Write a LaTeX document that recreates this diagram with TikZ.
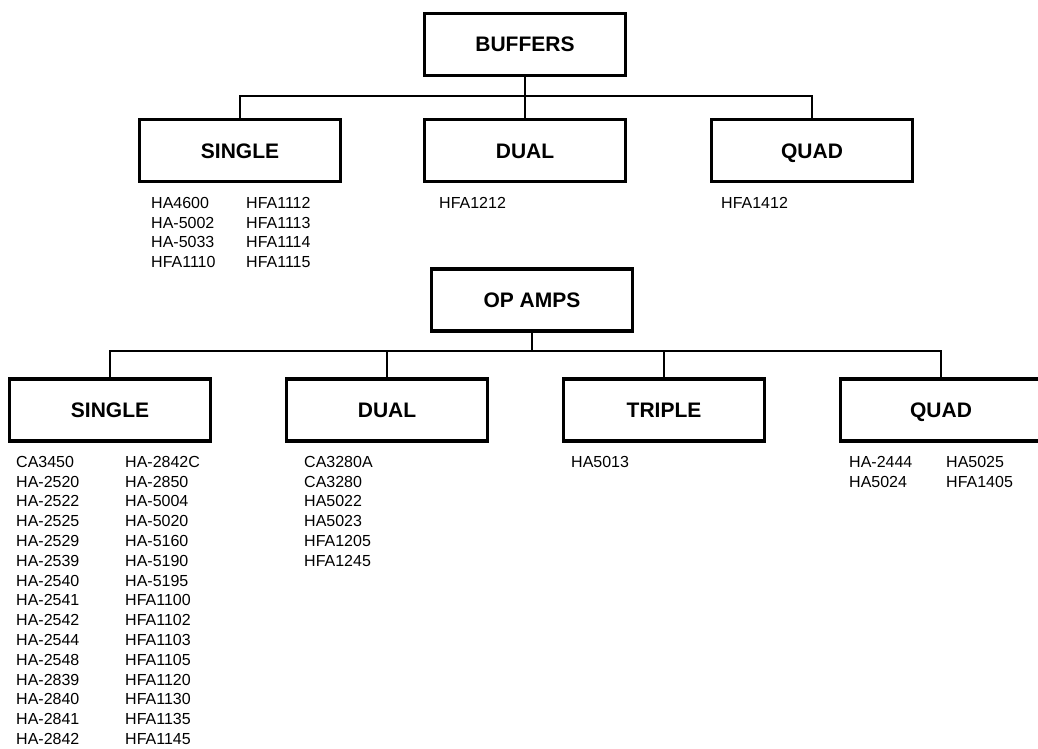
\documentclass[tikz,border=0pt]{standalone}
\usepackage{fontspec}
\setmainfont{Liberation Sans}
\begin{document}
\begin{tikzpicture}[x=1pt,y=-1pt,
    catbox/.style={draw,line width=3.5pt,minimum width=201pt,minimum height=62pt,inner sep=0pt,text height=15pt,text depth=0pt,font=\fontsize{21}{25}\selectfont\bfseries},
    partlist/.style={anchor=north west,inner sep=0pt,align=left,font=\fontsize{16}{19.8}\selectfont},
    link/.style={line width=1.8pt}]
    \useasboundingbox (0,0) rectangle (1038,749);
    \clip (0,0) rectangle (1038,749);
    % buffers
    \node[catbox] (buffers) at (525,44.5) {BUFFERS};
    \node[catbox] (bsingle) at (240,150.5) {SINGLE};
    \node[catbox] (bdual) at (525,150.5) {DUAL};
    \node[catbox] (bquad) at (812,150.5) {QUAD};
    \coordinate (bbar) at (525,96);
    \draw[link] (buffers.south) -- (bbar);
    \draw[link] (bsingle.north) |- (bbar) -| (bquad.north);
    \draw[link] (bbar) -- (bdual.north);
    \node[partlist] (bsinglea) at (151,197) {HA4600\\HA-5002\\HA-5033\\HFA1110};
    \node[partlist] (bsingleb) at (246,197) {HFA1112\\HFA1113\\HFA1114\\HFA1115};
    \node[partlist] (bduala) at (439,197) {HFA1212};
    \node[partlist] (bquada) at (721,197) {HFA1412};
    % op amps
    \node[catbox] (opamps) at (532,300) {OP AMPS};
    \node[catbox] (osingle) at (110,410) {SINGLE};
    \node[catbox] (odual) at (387,410) {DUAL};
    \node[catbox] (otriple) at (664,410) {TRIPLE};
    \node[catbox] (oquad) at (941,410) {QUAD};
    \coordinate (obar) at (532,351);
    \draw[link] (opamps.south) -- (obar);
    \draw[link] (osingle.north) |- (obar) -| (oquad.north);
    \draw[link] (odual.north) -- (odual.north |- obar);
    \draw[link] (otriple.north) -- (otriple.north |- obar);
    \node[partlist] (osinglea) at (16,456) {CA3450\\HA-2520\\HA-2522\\HA-2525\\HA-2529\\HA-2539\\HA-2540\\HA-2541\\HA-2542\\HA-2544\\HA-2548\\HA-2839\\HA-2840\\HA-2841\\HA-2842};
    \node[partlist] (osingleb) at (125,456) {HA-2842C\\HA-2850\\HA-5004\\HA-5020\\HA-5160\\HA-5190\\HA-5195\\HFA1100\\HFA1102\\HFA1103\\HFA1105\\HFA1120\\HFA1130\\HFA1135\\HFA1145};
    \node[partlist] (oduala) at (304,456) {CA3280A\\CA3280\\HA5022\\HA5023\\HFA1205\\HFA1245};
    \node[partlist] (otriplea) at (571,456) {HA5013};
    \node[partlist] (oquada) at (849,456) {HA-2444\\HA5024};
    \node[partlist] (oquadb) at (946,456) {HA5025\\HFA1405};
\end{tikzpicture}
\end{document}
